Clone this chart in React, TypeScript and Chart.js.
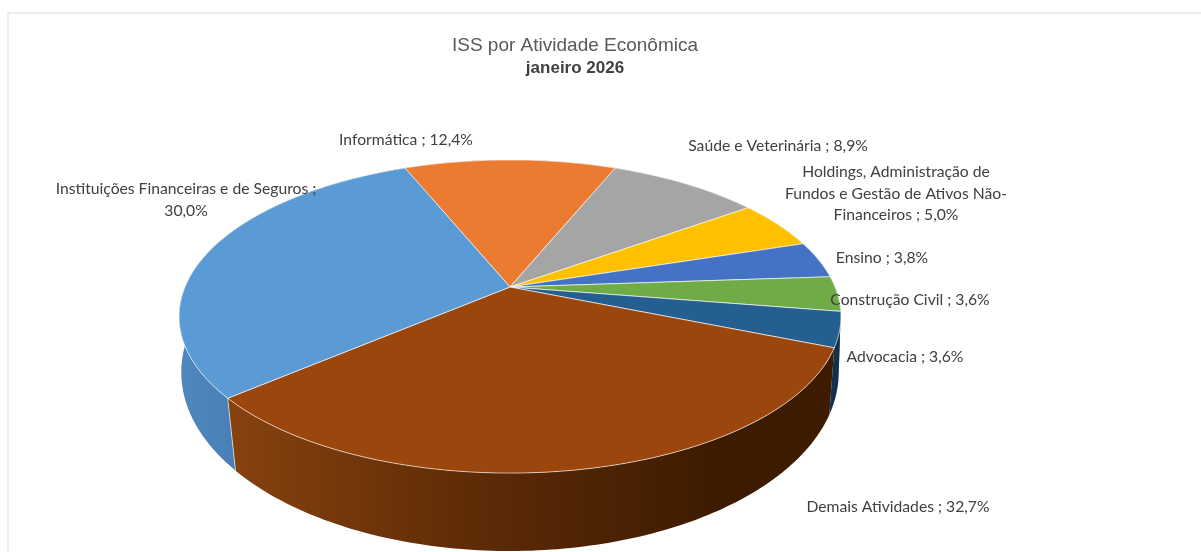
import React, { useEffect, useRef } from "react";
import { Chart, registerables } from "chart.js";

Chart.register(...registerables);

const titleText = "ISS por Atividade Econômica";
const subtitleText = "janeiro 2026";
const categories = [
  "Informática",
  "Saúde e Veterinária",
  "Holdings, Administração de Fundos e Gestão de Ativos Não-Financeiros",
  "Ensino",
  "Construção Civil",
  "Advocacia",
  "Demais Atividades",
  "Instituições Financeiras e de Seguros",
];
const values = [12.4, 8.9, 5.0, 3.8, 3.6, 3.6, 32.7, 30.0];
const faceColors = ["#EB7B30", "#A5A5A5", "#FFC000", "#4472C4", "#6FAC46", "#255E91", "#9B460C", "#5B9BD5"];
const sideColors = ["#a85520", "#777777", "#b38600", "#2f5190", "#4f7a32", "#12304f", "", ""];
// [centre x, first line y, wrap width]
const labelPlaces: [number, number, number][] = [
  [406, 140, 300],
  [778, 146, 300],
  [896, 172, 225],
  [882, 258, 300],
  [910, 300, 300],
  [905, 357, 300],
  [898, 507, 300],
  [186, 189, 265],
];

const K = 0.1885; // top face perspective strength
const FACE_B = 0.4646; // top face vertical ratio
const RING_K = 0.15; // bottom ring perspective strength
const RING_B = 0.5375; // bottom ring vertical ratio
const DEPTH = 58.5;
const LABEL_FONT = '15.7px Lato, "Noto Sans", sans-serif';

function project(el: any, angle: number, bottom: boolean): [number, number] {
  const u = Math.cos(angle);
  const v = Math.sin(angle);
  const R = el.outerRadius;
  if (bottom) {
    const w = 1 - RING_K * v;
    return [el.x + (R * u) / w, el.y + DEPTH + (R * RING_B * v) / w];
  }
  const w = 1 - K * v;
  return [el.x + (R * u) / w, el.y + (R * FACE_B * v) / w];
}

function arcPoints(el: any, bottom: boolean): [number, number][] {
  const pts: [number, number][] = [];
  const n = Math.max(2, Math.ceil(((el.endAngle - el.startAngle) * 180) / Math.PI));
  for (let i = 0; i <= n; i++) {
    pts.push(project(el, el.startAngle + ((el.endAngle - el.startAngle) * i) / n, bottom));
  }
  return pts;
}

function wrap(ctx: CanvasRenderingContext2D, text: string, width: number): string[] {
  const tokens = text.match(/[^\s-]+-?\s*|-\s*/g) || [text];
  const lines: string[] = [];
  let cur = "";
  for (const t of tokens) {
    if (cur && ctx.measureText((cur + t).trimEnd()).width > width) {
      lines.push(cur.trimEnd());
      cur = t;
    } else cur += t;
  }
  if (cur) lines.push(cur.trimEnd());
  return lines;
}

const pie3d = {
  id: "pie3d",
  afterLayout(chart: any) {
    for (const box of chart.boxes) {
      if (box.options && (box.options.text === titleText || box.options.text === subtitleText)) {
        box.left += 65;
        box.right += 65;
      }
    }
  },
  beforeDraw(chart: any) {
    const { ctx } = chart;
    ctx.save();
    ctx.strokeStyle = "#eeeeee";
    ctx.lineWidth = 2;
    ctx.strokeRect(8, 13, 1300, 700);
    ctx.restore();
  },
  beforeDatasetsDraw(chart: any) {
    const { ctx } = chart;
    const arcs = chart.getDatasetMeta(0).data;
    ctx.save();
    // side walls
    arcs.forEach((el: any, i: number) => {
      const top = arcPoints(el, false);
      const low = arcPoints(el, true).reverse();
      ctx.beginPath();
      [...top, ...low].forEach(([x, y], k) => (k ? ctx.lineTo(x, y) : ctx.moveTo(x, y)));
      ctx.closePath();
      let fill: any = sideColors[i];
      if (i === 6) {
        fill = ctx.createLinearGradient(228, 0, 720, 0);
        fill.addColorStop(0, "#87420e");
        fill.addColorStop(0.5, "#5e2b07");
        fill.addColorStop(1, "#3d1b00");
      } else if (i === 7) {
        fill = ctx.createLinearGradient(180, 0, 235, 0);
        fill.addColorStop(0, "#4f87bf");
        fill.addColorStop(1, "#4a7fb6");
      }
      ctx.fillStyle = fill;
      ctx.fill();
    });
    // wall seam between Demais and Instituições
    const seam = arcs[6];
    const s0 = project(seam, seam.endAngle, false);
    const s1 = project(seam, seam.endAngle, true);
    ctx.strokeStyle = "rgba(255,255,255,0.6)";
    ctx.lineWidth = 1;
    ctx.beginPath();
    ctx.moveTo(s0[0], s0[1]);
    ctx.lineTo(s1[0], s1[1]);
    ctx.stroke();
    // top faces
    arcs.forEach((el: any, i: number) => {
      ctx.beginPath();
      ctx.moveTo(el.x, el.y);
      arcPoints(el, false).forEach(([x, y]) => ctx.lineTo(x, y));
      ctx.closePath();
      ctx.fillStyle = faceColors[i];
      ctx.fill();
      ctx.strokeStyle = "rgba(255,255,255,0.62)";
      ctx.lineWidth = 1;
      ctx.stroke();
    });
    ctx.restore();
    return false;
  },
  afterDraw(chart: any) {
    const { ctx } = chart;
    ctx.save();
    ctx.font = LABEL_FONT;
    ctx.fillStyle = "#404040";
    ctx.textAlign = "center";
    ctx.textBaseline = "middle";
    categories.forEach((name, i) => {
      const text = `${name} ; ${values[i].toFixed(1).replace(".", ",")}%`;
      const [x, y, w] = labelPlaces[i];
      wrap(ctx, text, w).forEach((line, k) => ctx.fillText(line, x, y + k * 21.5));
    });
    ctx.restore();
  },
};

export default function App() {
  const ref = useRef<HTMLCanvasElement>(null);
  useEffect(() => {
    const chart = new Chart(ref.current!, {
      type: "pie",
      data: {
        labels: categories,
        datasets: [{ data: values, backgroundColor: faceColors, borderWidth: 0 }],
      },
      plugins: [pie3d as any],
      options: {
        animation: false,
        responsive: false,
        rotation: -22.3,
        radius: 325,
        layout: { padding: { left: 0, right: 181, top: 0, bottom: 62.6 } },
        plugins: {
          legend: { display: false },
          tooltip: { enabled: false },
          title: {
            display: true,
            text: titleText,
            color: "#595959",
            font: { family: '"Liberation Sans", Arial, sans-serif', size: 19, weight: "normal" },
            padding: { top: 34.4, bottom: 1 },
          },
          subtitle: {
            display: true,
            text: subtitleText,
            color: "#404040",
            font: { family: '"Liberation Sans", Arial, sans-serif', size: 17, weight: "bold" },
            padding: { top: 0, bottom: 6 },
          },
        },
      } as any,
    });
    return () => chart.destroy();
  }, []);
  return (
    <div style={{ position: "fixed", left: 0, top: 0, width: 1201, height: 552, background: "#fff" }}>
      <canvas ref={ref} width={1201} height={552} style={{ display: "block" }} />
    </div>
  );
}
